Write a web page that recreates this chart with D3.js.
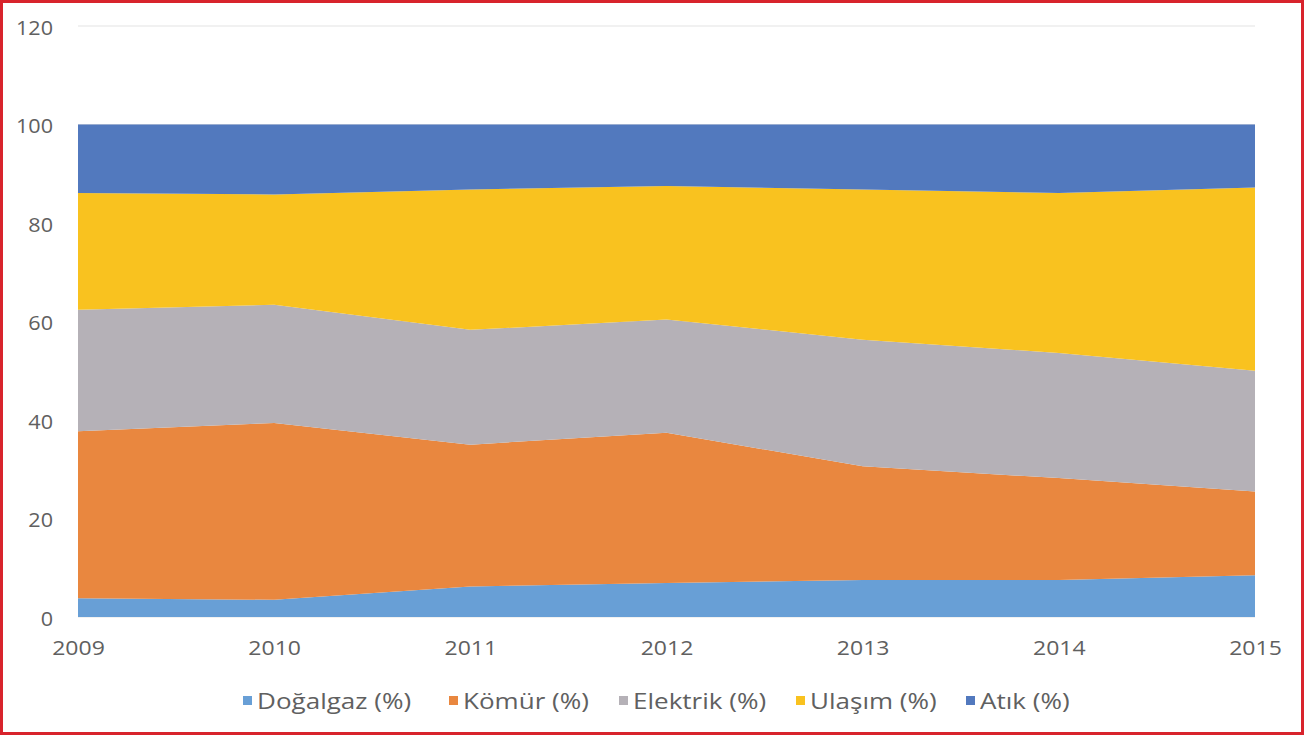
<!DOCTYPE html>
<html>
<head>
<meta charset="utf-8">
<script src="https://cdn.jsdelivr.net/npm/d3@7"></script>
<style>
  html, body { margin: 0; padding: 0; background: #fff; }
  svg { display: block; }
  text { font-family: "Open Sans", "Liberation Sans", sans-serif; fill: #606060; }
</style>
</head>
<body>
<svg id="chart" width="1304" height="735"></svg>
<script>
// Yıllara göre enerji kaynaklarının payı (%)
const years = [2009, 2010, 2011, 2012, 2013, 2014, 2015];
const dogalgaz = [3.8, 3.5, 6.2, 6.9, 7.5, 7.5, 8.5];
const komur    = [33.9, 35.9, 28.8, 30.5, 23.1, 20.7, 17.0];
const elektrik = [24.7, 24.0, 23.3, 23.0, 25.7, 25.4, 24.5];
const ulasim   = [23.7, 22.4, 28.5, 27.1, 30.5, 32.5, 37.2];
const atik     = [13.9, 14.2, 13.2, 12.5, 13.2, 13.9, 12.8];
const yTicks = [0, 20, 40, 60, 80, 100, 120];
const seriesNames = ["Doğalgaz (%)", "Kömür (%)", "Elektrik (%)", "Ulaşım (%)", "Atık (%)"];
const seriesColors = ["#689fd6", "#e9873f", "#b5b1b7", "#f9c21f", "#5279be"];

const seriesValues = [dogalgaz, komur, elektrik, ulasim, atik];
const rows = years.map((y, i) => {
  const r = { year: y };
  seriesNames.forEach((n, k) => { r[n] = seriesValues[k][i]; });
  return r;
});

const svg = d3.select("#chart");
const W = 1304, H = 735;

// frame
svg.append("rect")
  .attr("x", 1.5).attr("y", 1.5)
  .attr("width", W - 3).attr("height", H - 3)
  .attr("fill", "#fff")
  .attr("stroke", "#d8232c").attr("stroke-width", 3);

const x = d3.scaleLinear().domain([2009, 2015]).range([78, 1255]);
const y = d3.scaleLinear().domain([0, 120]).range([617, 26]);

// gridlines
svg.append("g")
  .selectAll("line")
  .data(yTicks)
  .join("line")
  .attr("x1", x(2009)).attr("x2", x(2015))
  .attr("y1", d => y(d)).attr("y2", d => y(d))
  .attr("stroke", "#e3e3e3").attr("stroke-width", 1);

// stacked areas
const stack = d3.stack().keys(seriesNames);
const layers = stack(rows);
const area = d3.area()
  .x(d => x(d.data.year))
  .y0(d => y(d[0]))
  .y1(d => y(d[1]))
  .curve(d3.curveLinear);

svg.append("g")
  .selectAll("path")
  .data(layers)
  .join("path")
  .attr("d", area)
  .attr("fill", (d, i) => seriesColors[i]);

// y axis labels
const yAxis = d3.axisLeft(y).tickValues(yTicks).tickSize(0).tickPadding(0);
const gy = svg.append("g").attr("transform", "translate(53,2)").call(yAxis);
gy.select(".domain").remove();
gy.selectAll("text")
  .style("font-size", "20px")
  .style("font-family", "'Open Sans', 'Liberation Sans', sans-serif")
  .attr("fill", "#606060")
  .attr("transform", "scale(1.08,1)");

// x axis labels
const xAxis = d3.axisBottom(x).tickValues(years).tickFormat(d3.format("d")).tickSize(0).tickPadding(0);
const gx = svg.append("g").attr("transform", "translate(0,641)").call(xAxis);
gx.select(".domain").remove();
gx.selectAll("text")
  .style("font-size", "20px")
  .style("font-family", "'Open Sans', 'Liberation Sans', sans-serif")
  .attr("fill", "#606060")
  .attr("transform", "scale(1.15,1)");

// legend
const legendX = [243, 449, 619, 796, 966];
const legend = svg.append("g");
seriesNames.forEach((n, i) => {
  const g = legend.append("g").attr("transform", `translate(${legendX[i]},701)`);
  g.append("rect").attr("x", 0).attr("y", -5).attr("width", 9).attr("height", 9)
    .attr("fill", seriesColors[i]);
  g.append("g").attr("transform", "translate(14,0) scale(1.24,1)")
    .append("text").attr("x", 0).attr("y", 0).attr("dy", "0.36em")
    .style("font-size", "21px").text(n);
});
</script>
</body>
</html>
